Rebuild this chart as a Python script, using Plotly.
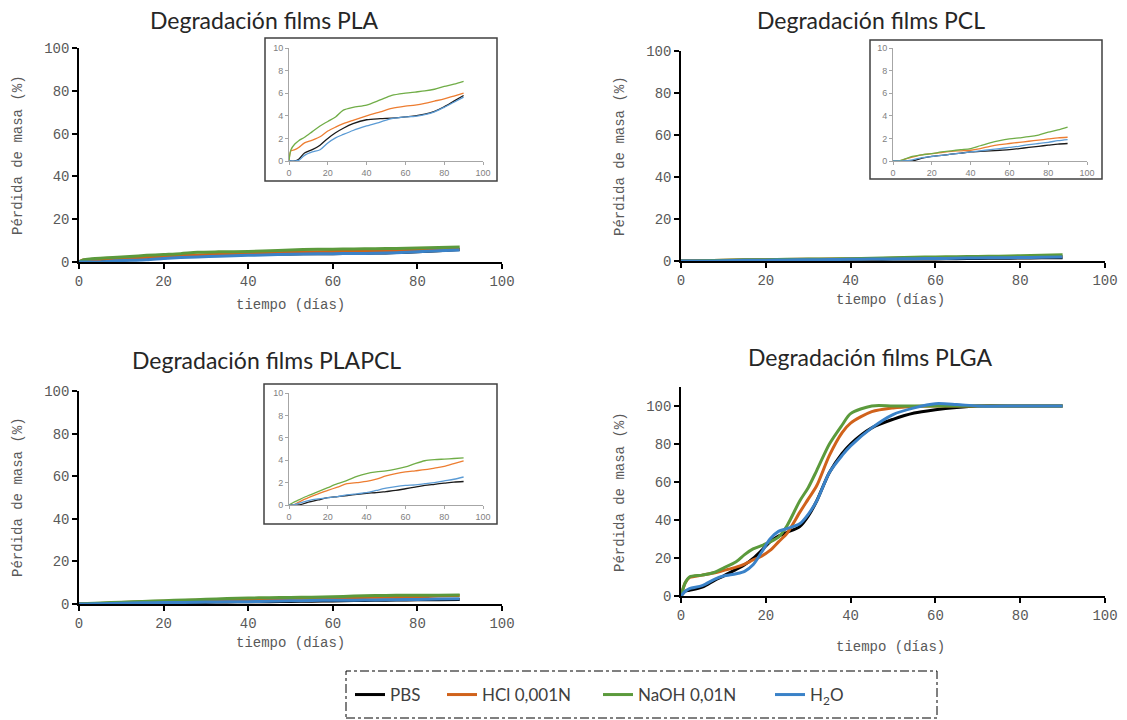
import plotly.graph_objects as go

W, H = 1127, 720

# ---------------- data ----------------
SERIES = ["PBS", "HCl 0,001N", "NaOH 0,01N", "H<sub>2</sub>O"]

PLA_DAYS = [0, 1, 3, 5, 8, 12, 16, 20, 24, 28, 33, 40, 47, 53, 60, 65, 70, 75, 80, 85, 90]
PLA_PBS = [0, 0, 0, 0.15, 0.7, 1.0, 1.4, 2.0, 2.5, 2.9, 3.3, 3.65, 3.75, 3.8, 3.9, 4.0, 4.15, 4.4, 4.8, 5.3, 5.8]
PLA_HCL = [0, 0.9, 1.0, 1.2, 1.6, 1.85, 2.15, 2.65, 3.0, 3.3, 3.6, 4.0, 4.35, 4.65, 4.85, 4.95, 5.1, 5.3, 5.5, 5.75, 6.0]
PLA_NAOH = [0, 1.0, 1.5, 1.8, 2.1, 2.6, 3.1, 3.5, 3.9, 4.5, 4.75, 4.95, 5.4, 5.8, 6.0, 6.1, 6.2, 6.35, 6.6, 6.8, 7.05]
PLA_H2O = [0, 0, 0, 0.05, 0.5, 0.8, 1.0, 1.6, 2.05, 2.35, 2.7, 3.1, 3.45, 3.75, 3.9, 3.95, 4.1, 4.35, 4.75, 5.2, 5.65]

PCL_DAYS = [0, 3, 5, 10, 15, 20, 25, 30, 35, 40, 45, 50, 55, 60, 65, 70, 75, 80, 85, 90]
PCL_PBS = [0, 0, 0, 0, 0.25, 0.4, 0.5, 0.6, 0.7, 0.8, 0.85, 0.9, 0.95, 1.0, 1.1, 1.2, 1.3, 1.4, 1.5, 1.55]
PCL_HCL = [0, 0, 0.1, 0.35, 0.55, 0.65, 0.75, 0.85, 0.9, 0.95, 1.1, 1.3, 1.45, 1.55, 1.65, 1.75, 1.85, 1.95, 2.05, 2.1]
PCL_NAOH = [0, 0, 0.1, 0.4, 0.55, 0.65, 0.8, 0.9, 1.0, 1.1, 1.35, 1.6, 1.8, 1.95, 2.05, 2.15, 2.3, 2.55, 2.75, 3.0]
PCL_H2O = [0, 0, 0, 0.1, 0.3, 0.4, 0.5, 0.6, 0.7, 0.8, 0.9, 1.0, 1.1, 1.2, 1.3, 1.45, 1.55, 1.65, 1.8, 1.9]

PLAPCL_DAYS = [0, 2, 5, 10, 15, 20, 25, 30, 35, 40, 45, 50, 55, 60, 65, 70, 75, 80, 85, 90]
PLAPCL_PBS = [0, 0, 0, 0.25, 0.45, 0.65, 0.75, 0.85, 0.95, 1.05, 1.1, 1.2, 1.3, 1.45, 1.6, 1.75, 1.85, 1.95, 2.05, 2.1]
PLAPCL_HCL = [0, 0, 0.25, 0.65, 1.0, 1.3, 1.6, 1.9, 2.0, 2.1, 2.3, 2.6, 2.8, 2.95, 3.05, 3.15, 3.3, 3.45, 3.7, 3.95]
PLAPCL_NAOH = [0, 0.2, 0.45, 0.85, 1.2, 1.55, 1.9, 2.2, 2.55, 2.8, 2.95, 3.05, 3.2, 3.4, 3.7, 3.95, 4.05, 4.1, 4.15, 4.2]
PLAPCL_H2O = [0, 0, 0.15, 0.4, 0.55, 0.65, 0.75, 0.9, 1.0, 1.1, 1.3, 1.5, 1.65, 1.75, 1.8, 1.9, 2.0, 2.15, 2.3, 2.5]

PLGA_DAYS = [0, 1, 2, 5, 8, 10, 13, 15, 17, 19, 21, 23, 25, 28, 30, 32, 35, 38, 40, 45, 50, 55, 60, 65, 70, 80, 90]
PLGA_PBS = [0, 2.5, 3, 4.7, 8.4, 10.5, 14, 16.4, 19.8, 24, 28.5, 31.5, 33.5, 36.5, 42, 50, 65, 75, 80, 88.5, 93, 96.3, 98, 99.2, 100, 100, 100]
PLGA_HCL = [0, 7, 9.7, 11, 12.2, 13.4, 15.2, 16.8, 19, 21, 24, 28.5, 33, 44, 51, 58, 74, 86, 91, 97, 99, 99.8, 100, 100, 100, 100, 100]
PLGA_NAOH = [0, 7, 10, 11, 12.5, 14.7, 18, 21.8, 24.8, 26.5, 28.5, 31, 37, 50, 57, 66, 80, 90, 96, 100, 100, 100, 100, 100, 100, 100, 100]
PLGA_H2O = [0, 2.5, 3.9, 5.5, 8.9, 10.5, 11.7, 13, 16.4, 23, 30, 34, 35.5, 38, 43, 50, 65, 74, 79, 88.5, 95.5, 99, 101.2, 100.8, 100, 100, 100]

TITLES = ["Degradación films PLA", "Degradación films PCL",
          "Degradación films PLAPCL", "Degradación films PLGA"]
X_TITLE = "tiempo (días)"
Y_TITLE = "Pérdida de masa (%)"

# ---------------- styles ----------------
MAIN_COLORS = ["#000000", "#D0621B", "#5B9A3C", "#3A82C8"]
INSET_COLORS = ["#1A1A1A", "#ED7D31", "#70AD47", "#5B9BD5"]
MONO = "Liberation Mono, Courier New, monospace"
SANS = "Lato, Open Sans, sans-serif"
TICK_GRAY = "#595959"


def px_x(p):
    return p / W


def px_y(p):
    return 1 - p / H


fig = go.Figure()

panels = [
    dict(days=PLA_DAYS, ys=[PLA_PBS, PLA_HCL, PLA_NAOH, PLA_H2O],
         xd=[79, 502], yd=[262, 48], yr=[0, 100], inset=dict(xd=[289, 483], yd=[161, 48], box=[265, 38, 497, 181])),
    dict(days=PCL_DAYS, ys=[PCL_PBS, PCL_HCL, PCL_NAOH, PCL_H2O],
         xd=[681, 1105], yd=[261, 51], yr=[0, 100], inset=dict(xd=[893, 1087], yd=[161, 48], box=[870, 40, 1102, 179])),
    dict(days=PLAPCL_DAYS, ys=[PLAPCL_PBS, PLAPCL_HCL, PLAPCL_NAOH, PLAPCL_H2O],
         xd=[79, 502], yd=[604, 391], yr=[0, 100], inset=dict(xd=[289, 483], yd=[505, 393], box=[264, 384, 497, 524])),
    dict(days=PLGA_DAYS, ys=[PLGA_PBS, PLGA_HCL, PLGA_NAOH, PLGA_H2O],
         xd=[681, 1105], yd=[596, 387], yr=[0, 110], inset=None),
]

title_pos = [(264, 20), (871, 20), (266, 360), (870, 357)]
xtitle_pos = [(290, 305), (890, 300), (290, 643), (890, 647)]
ytitle_pos = [(18, 155), (620, 156), (18, 497), (620, 492)]
legend_x = [355, 447, 603, 775]
legend_names = ["legend", "legend2", "legend3", "legend4"]

annotations = []
shapes = []
axis_idx = 0

for pi, p in enumerate(panels):
    axis_idx += 1
    xa = "x" if axis_idx == 1 else f"x{axis_idx}"
    ya = "y" if axis_idx == 1 else f"y{axis_idx}"
    xkey = "xaxis" if axis_idx == 1 else f"xaxis{axis_idx}"
    ykey = "yaxis" if axis_idx == 1 else f"yaxis{axis_idx}"
    for si in range(4):
        fig.add_trace(go.Scatter(
            x=p["days"], y=p["ys"][si], mode="lines", name=SERIES[si],
            line=dict(color=MAIN_COLORS[si], width=3, shape="spline", smoothing=0.8),
            xaxis=xa, yaxis=ya, showlegend=(pi == 3), legend=legend_names[si],
            hoverinfo="skip"))
    fig.update_layout({
        xkey: dict(domain=[px_x(p["xd"][0]), px_x(p["xd"][1])], range=[0, 100],
                   tickvals=[0, 20, 40, 60, 80, 100], showline=True, linecolor="black", linewidth=1.5,
                   ticks="outside", ticklen=5, tickwidth=1.5, tickcolor="black",
                   showgrid=False, zeroline=False, anchor=ya,
                   tickfont=dict(family=MONO, size=14, color=TICK_GRAY)),
        ykey: dict(domain=[px_y(p["yd"][0]), px_y(p["yd"][1])], range=p["yr"],
                   tickvals=[0, 20, 40, 60, 80, 100], showline=True, linecolor="black", linewidth=1.5,
                   ticks="outside", ticklen=5, tickwidth=1.5, tickcolor="black",
                   showgrid=False, zeroline=False, anchor=xa,
                   tickfont=dict(family=MONO, size=14, color=TICK_GRAY)),
    })
    tx, ty = title_pos[pi]
    annotations.append(dict(text=TITLES[pi], x=px_x(tx), y=px_y(ty), xref="paper", yref="paper",
                            showarrow=False, xanchor="center", yanchor="middle",
                            font=dict(family=SANS, size=23, color="#262626")))
    tx, ty = xtitle_pos[pi]
    annotations.append(dict(text=X_TITLE, x=px_x(tx), y=px_y(ty), xref="paper", yref="paper",
                            showarrow=False, xanchor="center", yanchor="middle",
                            font=dict(family=MONO, size=14, color=TICK_GRAY)))
    tx, ty = ytitle_pos[pi]
    annotations.append(dict(text=Y_TITLE, x=px_x(tx), y=px_y(ty), xref="paper", yref="paper",
                            showarrow=False, xanchor="center", yanchor="middle", textangle=-90,
                            font=dict(family=MONO, size=14, color=TICK_GRAY)))

    ins = p["inset"]
    if ins:
        axis_idx += 1
        xa = f"x{axis_idx}"
        ya = f"y{axis_idx}"
        for si in range(4):
            fig.add_trace(go.Scatter(
                x=p["days"], y=p["ys"][si], mode="lines", name=SERIES[si],
                line=dict(color=INSET_COLORS[si], width=1.3, shape="spline", smoothing=0.8),
                xaxis=xa, yaxis=ya, showlegend=False, hoverinfo="skip"))
        fig.update_layout({
            f"xaxis{axis_idx}": dict(domain=[px_x(ins["xd"][0]), px_x(ins["xd"][1])], range=[0, 100],
                                     tickvals=[0, 20, 40, 60, 80, 100], showline=True, linecolor="#A6A6A6",
                                     linewidth=1, ticks="outside", ticklen=3, tickcolor="#A6A6A6",
                                     showgrid=False, zeroline=False, anchor=ya,
                                     tickfont=dict(family="Liberation Sans, Arial", size=9, color="#7F7F7F")),
            f"yaxis{axis_idx}": dict(domain=[px_y(ins["yd"][0]), px_y(ins["yd"][1])], range=[0, 10],
                                     tickvals=[0, 2, 4, 6, 8, 10], showline=True, linecolor="#A6A6A6",
                                     linewidth=1, ticks="outside", ticklen=3, tickcolor="#A6A6A6",
                                     showgrid=False, zeroline=False, anchor=xa,
                                     tickfont=dict(family="Liberation Sans, Arial", size=9, color="#7F7F7F")),
        })
        b = ins["box"]
        shapes.append(dict(type="rect", xref="paper", yref="paper",
                           x0=px_x(b[0]), x1=px_x(b[2]), y0=px_y(b[3]), y1=px_y(b[1]),
                           line=dict(color="#404040", width=1.5)))

# legend frame (dash-dot)
shapes.append(dict(type="rect", xref="paper", yref="paper",
                   x0=px_x(346), x1=px_x(937), y0=px_y(718), y1=px_y(671),
                   line=dict(color="#000000", width=1, dash="dashdot")))

legend_layout = {}
for li, ln in enumerate(legend_names):
    legend_layout[ln] = dict(orientation="h", x=px_x(legend_x[li] - 5), y=px_y(695),
                             xanchor="left", yanchor="middle",
                             font=dict(family=SANS, size=17, color="#404040"),
                             bgcolor="rgba(0,0,0,0)", itemwidth=30, borderwidth=0)

fig.update_layout(
    width=W, height=H, margin=dict(l=0, r=0, t=0, b=0, pad=0, autoexpand=False),
    paper_bgcolor="white", plot_bgcolor="white",
    annotations=annotations, shapes=shapes,
    showlegend=True,
    **legend_layout,
)

fig.write_html("out.html", config={"displayModeBar": False},
               post_script="document.body.style.margin='0';document.body.style.overflow='hidden';")
